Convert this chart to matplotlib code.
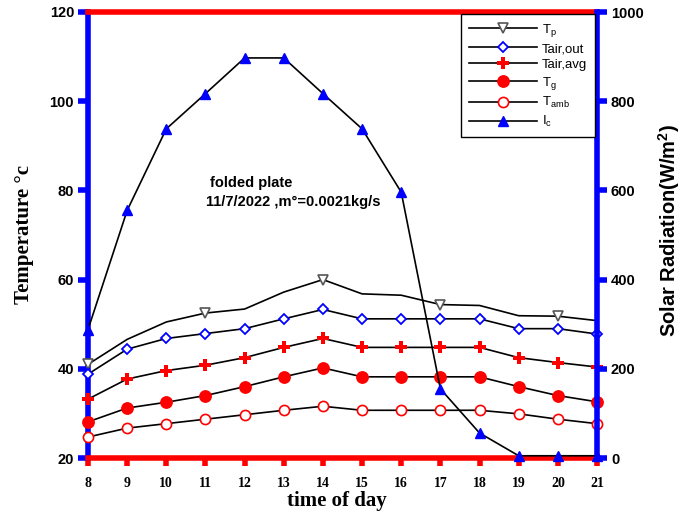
import matplotlib
matplotlib.use('Agg')
import matplotlib.pyplot as plt

plt.rcParams['font.family'] = ['Liberation Sans', 'DejaVu Sans']
plt.rcParams['mathtext.fontset'] = 'custom'
plt.rcParams['mathtext.rm'] = 'Liberation Sans'

# data
hours = [8, 9, 10, 11, 12, 13, 14, 15, 16, 17, 18, 19, 20, 21]
t_p = [41.0, 46.6, 50.5, 52.5, 53.4, 57.2, 60.0, 56.8, 56.5, 54.4, 54.2, 51.9, 51.8, 50.8]
t_air_out = [38.8, 44.4, 46.8, 47.9, 49.0, 51.2, 53.3, 51.2, 51.2, 51.2, 51.2, 49.0, 49.0, 47.8]
t_air_avg = [33.2, 37.7, 39.6, 40.8, 42.5, 44.8, 46.8, 44.8, 44.8, 44.8, 44.8, 42.5, 41.4, 40.4]
t_g = [28.1, 31.2, 32.5, 34.0, 36.0, 38.2, 40.2, 38.2, 38.2, 38.2, 38.2, 36.0, 34.0, 32.6]
t_amb = [24.7, 26.7, 27.7, 28.7, 29.7, 30.7, 31.6, 30.7, 30.7, 30.7, 30.7, 29.9, 28.7, 27.7]
i_c = [288, 555, 738, 817, 897, 897, 817, 738, 596, 155, 56, 5, 5, 5]

fig = plt.figure(figsize=(6.82, 5.16), dpi=100)
ax = fig.add_axes([88 / 682, 58 / 516, 509 / 682, 446 / 516])
ax2 = ax.twinx()

kw = dict(color='black', lw=1.2, clip_on=False, zorder=5)
l1, = ax.plot(hours, t_p, marker='v', ms=7, mfc='white', mec='#555555', mew=1.2,
              markevery=3, label='T$_\\mathregular{p}$', **kw)
l2, = ax.plot(hours, t_air_out, marker='D', ms=5.2, mfc='white', mec='blue', mew=1.3,
              label='Tair,out', **kw)
l3, = ax.plot(hours, t_air_avg, marker='P', ms=8.5, mfc='red', mec='red', mew=0,
              label='Tair,avg', **kw)
l4, = ax.plot(hours, t_g, marker='o', ms=8.2, mfc='red', mec='red',
              label='T$_\\mathregular{g}$', **kw)
l5, = ax.plot(hours, t_amb, marker='o', ms=7.3, mfc='white', mec='red', mew=1.2,
              label='T$_\\mathregular{amb}$', **kw)
l6, = ax2.plot(hours, i_c, marker='^', ms=7.2, mfc='blue', mec='blue',
               label='I$_\\mathregular{c}$', **kw)

ax.set_xlim(8, 21)
ax.set_ylim(20, 120)
ax2.set_ylim(0, 1000)
ax.set_xticks(hours)
ax.set_yticks(range(20, 121, 20))
ax2.set_yticks(range(0, 1001, 200))

# spines
for s in ['left', 'bottom', 'top', 'right']:
    ax.spines[s].set_linewidth(4)
    ax2.spines[s].set_visible(False)
ax.spines['right'].set_visible(False)
ax.spines['left'].set_color('blue')
ax.spines['bottom'].set_color('red')
ax.spines['top'].set_color('red')
ax2.spines['right'].set_visible(True)
ax2.spines['right'].set_linewidth(4)
ax2.spines['right'].set_color('blue')

ax.tick_params(axis='y', direction='out', length=7, width=4, color='blue', pad=3)
ax.tick_params(axis='x', direction='out', length=6, width=4, color='red', pad=8)
ax2.tick_params(axis='y', direction='out', length=7, width=4, color='blue', pad=3)

for t in ax.get_yticklabels() + ax2.get_yticklabels():
    t.set_fontweight('bold')
    t.set_fontsize(10.5)
for t in ax.get_xticklabels():
    t.set_family('Liberation Serif')
    t.set_fontweight('bold')
    t.set_fontsize(10)

ax.set_xlabel('time of day', family='Liberation Serif', fontweight='bold', fontsize=15)
ax.set_ylabel('Temperature \u00b0c', family='Liberation Serif', fontweight='bold',
              fontsize=15)
ax2.set_ylabel('Solar Radiation(W/m$^\\mathregular{2}$)', fontweight='bold', fontsize=14.5)
ax.xaxis.set_label_coords(0.489, -0.074)
ax.yaxis.set_label_coords(-0.106, 0.5)
ax2.yaxis.set_label_coords(1.116, 0.51)

ax.text(0.24, 0.608, 'folded plate', transform=ax.transAxes, fontsize=10.5, fontweight='bold')
ax.text(0.232, 0.565, '11/7/2022 ,m\u00b0=0.0021kg/s', transform=ax.transAxes, fontsize=10.5,
        fontweight='bold')

leg = ax2.legend(handles=[l1, l2, l3, l4, l5, l6], loc='upper right',
                 bbox_to_anchor=(0.996, 0.995), fontsize=9.5, handlelength=5.1,
                 handletextpad=0.4, fancybox=False, framealpha=1, edgecolor='black',
                 borderpad=0.6, labelspacing=0.28, borderaxespad=0)
leg.get_frame().set_linewidth(1.0)
leg.set_zorder(10)

plt.savefig('out.png', dpi=100)
